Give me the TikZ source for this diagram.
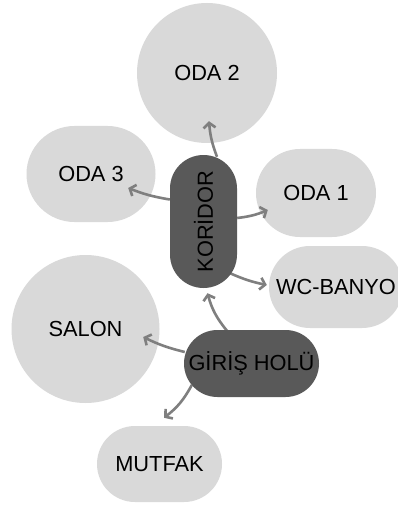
\documentclass[tikz,border=0pt]{standalone}
\usepackage{fontspec}
\setmainfont{Liberation Sans}
\usetikzlibrary{arrows.meta,calc,backgrounds}
\definecolor{roomgrey}{HTML}{D9D9D9}
\definecolor{hubgrey}{HTML}{595959}
\definecolor{linkgrey}{HTML}{7F7F7F}
\tikzset{
  label text/.style={font=\fontsize{21.8}{26}\selectfont, text=black, inner sep=0pt},
  roombox/.style={label text, fill=roomgrey, draw=none},
  hubbox/.style={label text, fill=hubgrey, draw=none},
  pillbox/.style args={#1x#2}{minimum width=#1pt, minimum height=#2pt,
    rounded corners={min(#1,#2)/2*1pt}},
  link/.style={draw=linkgrey, line width=2.6pt,
    -{Straight Barb[length=5pt,width=12pt]}},
}
\begin{document}
\begin{tikzpicture}[x=1pt,y=-1pt]
  \useasboundingbox (0,0) rectangle (398,505);
  \clip (0,0) rectangle (398,505);
  % hubs on the main layer
  \node[hubbox, pillbox=67x133] (kor) at (203.5,221.5) {\rotatebox{90}{KORİDOR}};
  \node[hubbox, pillbox=135x67] (giris) at (251.5,363.5) {GİRİŞ HOLÜ};
  \begin{pgfonlayer}{background}
    \fill[white] (0,0) rectangle (398,505);
    % rooms
    \node[roombox, circle, minimum size=140pt] (oda2) at (207,73) {ODA 2};
    \node[roombox, pillbox=129x96] (oda3) at (91,174) {ODA 3};
    \node[roombox, pillbox=120x88] (oda1) at (316,193) {ODA 1};
    \node[roombox, pillbox=134x82] (wc) at (336,287) {WC-BANYO};
    \node[roombox, circle, minimum size=148pt] (salon) at (85.5,329) {SALON};
    \node[roombox, pillbox=125x76] (mutfak) at (159.5,464) {MUTFAK};
    % connections
    \draw[link] ($(kor.north)+(13.5,2)$) to[bend left=8] ($(oda2.south)+(2,-22)$);
    \draw[link] ($(kor.west)+(0,-22)$) to[bend left=6] ($(oda3.east)+(-27.5,14)$);
    \draw[link] ($(kor.east)+(0,-3.5)$) to[bend right=8] ($(oda1.west)+(12,17)$);
    \draw[link] ($(kor.south)+(26.5,-15)$) to[bend right=6] ($(wc.west)+(-2,-2)$);
    \draw[link] ($(giris.north)+(-24.5,1)$) to[bend left=12] ($(kor.south)+(4,5)$);
    \draw[link] ($(giris.west)+(1,-11.5)$) to[bend left=6] ($(salon.east)+(-16.5,8)$);
    \draw[link] ($(giris.west)+(8,21.5)$) to[bend left=12] ($(mutfak.north)+(4.5,-8)$);
  \end{pgfonlayer}
\end{tikzpicture}
\end{document}
